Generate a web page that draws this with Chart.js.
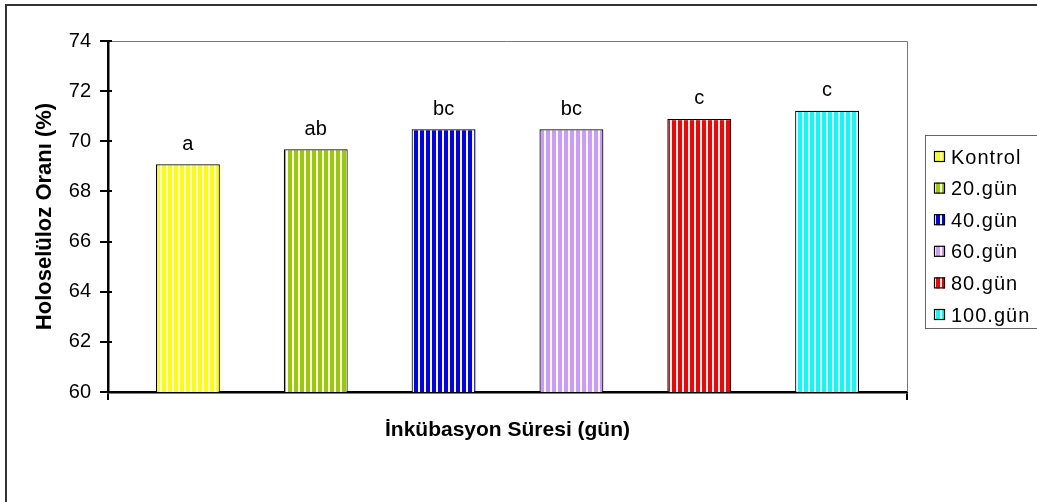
<!DOCTYPE html>
<html><head><meta charset="utf-8">
<script src="https://cdn.jsdelivr.net/npm/chart.js@4/dist/chart.umd.min.js"></script>
<style>html,body{margin:0;padding:0;background:#fff;}#wrap{width:1037px;height:502px;}</style>
</head><body><div id="wrap"><canvas id="c" width="1037" height="502"></canvas></div>
<script>
const categories = [''];
const seriesNames = ['Kontrol', '20.gün', '40.gün', '60.gün', '80.gün', '100.gün'];
const seriesValues = [69.08, 69.68, 70.48, 70.48, 70.89, 71.22];
const seriesLetters = ['a', 'ab', 'bc', 'bc', 'c', 'c'];
const seriesColors = ['#FFFF00', '#99CC00', '#0000FF', '#CC99FF', '#FF0000', '#00FFFF'];
const yTicks = [60, 62, 64, 66, 68, 70, 72, 74];

const FONT = '"Liberation Sans", Arial, sans-serif';

function stripe(color) {
  const c = document.createElement('canvas');
  c.width = 6; c.height = 6;
  const g = c.getContext('2d');
  g.fillStyle = '#fff'; g.fillRect(0, 0, 6, 6);
  g.fillStyle = color; g.fillRect(0, 0, 4, 6);
  return g.createPattern(c, 'repeat');
}
const ctx = document.getElementById('c').getContext('2d');
const patterns = seriesColors.map(stripe);

const datasets = seriesNames.map((name, i) => ({
  label: name,
  data: [seriesValues[i]],
  backgroundColor: patterns[i],
  borderColor: '#000',
  borderWidth: 1.2,
  borderSkipped: 'bottom',
  categoryPercentage: 0.96,
  barPercentage: 0.5
}));

const decor = {
  id: 'decor',
  beforeDraw(chart) {
    const g = chart.ctx;
    g.save();
    g.strokeStyle = '#333'; g.lineWidth = 2;
    g.beginPath(); g.moveTo(6, 502); g.lineTo(6, 5); g.lineTo(1037, 5); g.stroke();
    g.restore();
  },
  afterDatasetsDraw(chart) {
    const g = chart.ctx;
    const a = chart.chartArea;
    g.save();
    g.strokeStyle = '#777'; g.lineWidth = 1;
    g.beginPath(); g.moveTo(a.left, a.top + 0.5); g.lineTo(a.right + 0.5, a.top + 0.5); g.lineTo(a.right + 0.5, a.bottom); g.stroke();
    const ys = chart.scales.y;
    g.strokeStyle = '#000'; g.lineWidth = 2;
    yTicks.forEach(v => {
      const y = Math.round(ys.getPixelForValue(v));
      g.beginPath(); g.moveTo(a.left, y); g.lineTo(a.left + 4, y); g.stroke();
    });
    g.fillStyle = '#000';
    g.font = '20px ' + FONT;
    g.textAlign = 'center'; g.textBaseline = 'bottom';
    chart.data.datasets.forEach((ds, i) => {
      const el = chart.getDatasetMeta(i).data[0];
      g.fillText(seriesLetters[i], el.x, el.y - 10);
    });
    const lx = 925, ly = 135, lw = 120, lh = 193;
    g.strokeStyle = '#666'; g.lineWidth = 1;
    g.strokeRect(lx + 0.5, ly + 0.5, lw, lh);
    g.font = '20px ' + FONT;
    try { g.letterSpacing = '1px'; } catch (e) {}
    g.textAlign = 'left'; g.textBaseline = 'middle';
    chart.data.datasets.forEach((ds, i) => {
      const cy = 157 + i * 31.6;
      g.fillStyle = ds.backgroundColor;
      g.fillRect(934, cy - 6, 11, 11);
      g.strokeStyle = '#000'; g.lineWidth = 1.2;
      g.strokeRect(934.5, cy - 5.5, 10, 10);
      g.fillStyle = '#000';
      g.fillText(ds.label, 951, cy + 1);
    });
    g.restore();
  }
};

new Chart(ctx, {
  type: 'bar',
  data: { labels: categories, datasets },
  options: {
    responsive: false,
    animation: false,
    layout: { padding: { left: 0, top: 41, right: 130, bottom: 0 } },
    plugins: { legend: { display: false }, tooltip: { enabled: false } },
    scales: {
      x: {
        afterFit(s) { s.height = 110; },
        grid: { display: true, drawOnChartArea: false, drawTicks: true, tickLength: 8, color: '#000', lineWidth: 2, offset: true },
        border: { display: true, color: '#000', width: 2.5 },
        ticks: { display: false },
        title: { display: true, text: 'İnkübasyon Süresi (gün)', color: '#000', font: { family: FONT, size: 21, weight: 'bold' }, padding: { top: 0, bottom: 59 } }
      },
      y: {
        min: 60, max: 74,
        afterFit(s) { s.width = 108; },
        afterBuildTicks(s) { s.ticks = yTicks.map(v => ({ value: v })); },
        grid: { display: true, drawOnChartArea: false, drawTicks: true, tickLength: 8, color: '#000', lineWidth: 2 },
        border: { display: true, color: '#000', width: 2.5 },
        ticks: { color: '#000', padding: 9, font: { family: FONT, size: 20 } },
        title: { display: true, text: 'Holoselüloz Oranı (%)', color: '#000', font: { family: FONT, size: 22, weight: 'bold' }, padding: { top: 32, bottom: 0 } }
      }
    }
  },
  plugins: [decor]
});
</script>
</body></html>
